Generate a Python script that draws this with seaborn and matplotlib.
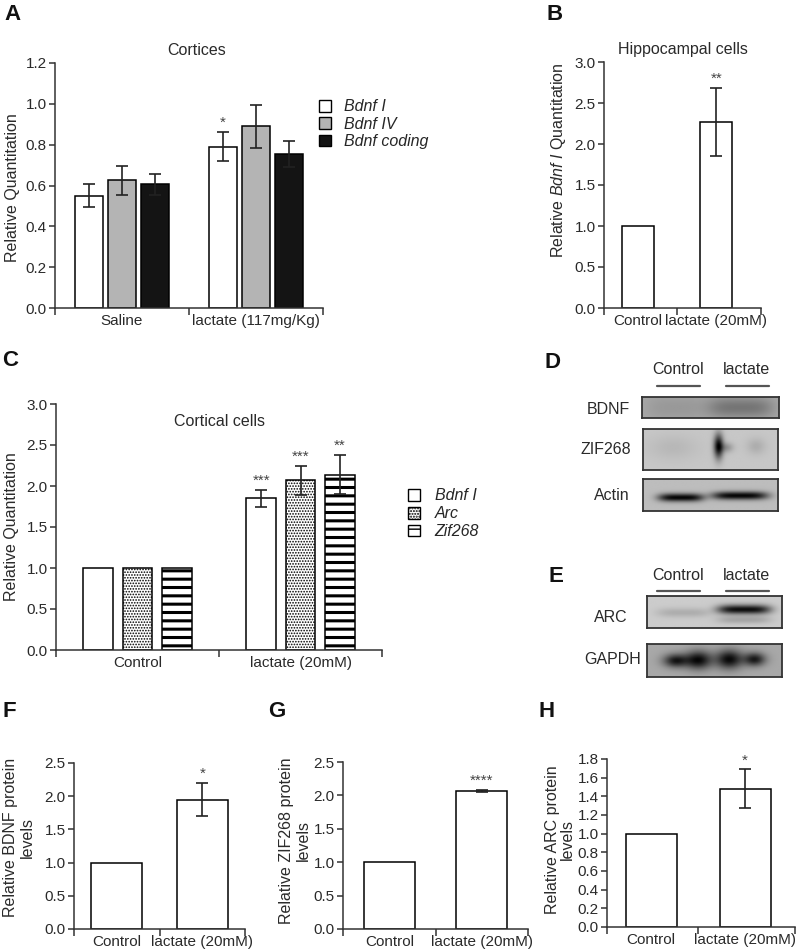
import numpy as np
import pandas as pd
import matplotlib
matplotlib.use("Agg")
import matplotlib.pyplot as plt
import seaborn as sns
from matplotlib.patches import Patch
from matplotlib.lines import Line2D

# --- A: Cortices (qPCR, 3 transcripts) ---
A_GROUPS = ["Saline", "lactate (117mg/Kg)"]
A_GENES = ["Bdnf I", "Bdnf IV", "Bdnf coding"]
A_MEANS = [[0.55, 0.79], [0.625, 0.89], [0.605, 0.755]]
A_ERRS = [[0.057, 0.072], [0.072, 0.105], [0.05, 0.065]]
A_STARS = [["", "*"], ["", ""], ["", ""]]

# --- B: Hippocampal cells ---
B_GROUPS = ["Control", "lactate (20mM)"]
B_MEANS = [1.0, 2.27]
B_ERRS = [0.0, 0.415]
B_STARS = ["", "**"]

# --- C: Cortical cells ---
C_GROUPS = ["Control", "lactate (20mM)"]
C_GENES = ["Bdnf I", "Arc", "Zif268"]
C_MEANS = [[1.0, 1.85], [1.0, 2.07], [1.0, 2.14]]
C_ERRS = [[0.0, 0.10], [0.0, 0.175], [0.0, 0.235]]
C_STARS = [["", "***"], ["", "***"], ["", "**"]]

# --- F/G/H: western blot quantification ---
FGH_GROUPS = ["Control", "lactate (20mM)"]
F_MEANS = [1.0, 1.95]
F_ERRS = [0.0, 0.25]
F_STARS = ["", "*"]
G_MEANS = [1.0, 2.07]
G_ERRS = [0.0, 0.012]
G_STARS = ["", "****"]
H_MEANS = [1.0, 1.48]
H_ERRS = [0.0, 0.21]
H_STARS = ["", "*"]

# --- D/E: blot band sketches (cx, cy, sx, sy, depth, power) in box fractions ---
BDNF_BG, BDNF_BANDS = 0.66, [(0.25, 0.5, 0.22, 0.6, 0.06, 4), (0.72, 0.5, 0.24, 0.5, 0.2, 4)]
ZIF_BG, ZIF_BANDS = 0.78, [(0.22, 0.45, 0.18, 0.3, 0.06, 2), (0.56, 0.42, 0.035, 0.3, 0.75, 2),
                           (0.62, 0.45, 0.05, 0.12, 0.2, 2), (0.84, 0.42, 0.07, 0.2, 0.1, 2)]
ACTIN_BG, ACTIN_BANDS = 0.74, [(0.28, 0.58, 0.17, 0.13, 0.72, 4), (0.72, 0.52, 0.21, 0.13, 0.72, 4)]
ARC_BG, ARC_BANDS = 0.80, [(0.27, 0.52, 0.2, 0.15, 0.12, 4), (0.72, 0.42, 0.2, 0.15, 0.75, 4),
                           (0.72, 0.75, 0.2, 0.12, 0.15, 4)]
GAPDH_BG, GAPDH_BANDS = 0.66, [(0.21, 0.52, 0.09, 0.2, 0.55, 2), (0.38, 0.5, 0.1, 0.27, 0.62, 2),
                               (0.61, 0.48, 0.1, 0.28, 0.62, 2), (0.80, 0.48, 0.08, 0.2, 0.55, 2)]

W, H = 800, 950
TXT = "#2a2a2a"

sns.set_style("ticks")
plt.rcParams["font.family"] = ["Liberation Sans", "DejaVu Sans"]
plt.rcParams["mathtext.fontset"] = "custom"
plt.rcParams["mathtext.rm"] = "Liberation Sans"
plt.rcParams["mathtext.it"] = "Liberation Sans:italic"
plt.rcParams["hatch.linewidth"] = 1.0


def box(l, t, r, b):
    return [l / W, 1 - b / H, (r - l) / W, (b - t) / H]


def fx(x):
    return x / W


def fy(y):
    return 1 - y / H


def style_axis(ax, groups, ylim, yticks, xlim, mid=0.5):
    ax.set_ylim(ylim)
    ax.set_yticks(yticks)
    ax.set_yticklabels([f"{t:.1f}" for t in yticks])
    ax.set_xlim(xlim)
    ax.set_xticks([0, 1])
    ax.set_xticklabels(groups)
    ax.set_xticks([xlim[0], mid, xlim[1]], minor=True)
    ax.tick_params(axis="x", which="major", length=0, pad=4, labelsize=11, colors=TXT)
    ax.tick_params(axis="x", which="minor", length=5, width=1.1, color="#333")
    ax.tick_params(axis="y", length=4, width=1.1, labelsize=11, colors=TXT, pad=2)
    ax.tick_params(axis="y", color="#333")
    for s in ["top", "right"]:
        ax.spines[s].set_visible(False)
    for s in ["left", "bottom"]:
        ax.spines[s].set_linewidth(1.1)
        ax.spines[s].set_color("#333")
    ax.set_xlabel("")
    ax.set_ylabel("")


def put_ylabel(ax, text, x, y, spacing=1.15):
    ax.set_ylabel(text, fontsize=11.5, color=TXT, linespacing=spacing)
    ax.yaxis.set_label_coords(x, y)
    ax.yaxis.label.set_verticalalignment("center")


def add_err_star(ax, x, m, e, star, ymax):
    if e > 0:
        ax.errorbar(x, m, yerr=e, fmt="none", ecolor="#222", elinewidth=1.2,
                    capsize=4, capthick=1.2, zorder=5)
    if star:
        ax.text(x, m + e + ymax * 0.01, star, ha="center", va="bottom",
                fontsize=11, color="#444")


def grouped_bars(ax, groups, genes, means, errs, stars, colors, width, gap, ymax):
    rows = [(g, gene, means[i][j]) for i, gene in enumerate(genes) for j, g in enumerate(groups)]
    df = pd.DataFrame(rows, columns=["group", "gene", "value"])
    sns.barplot(data=df, x="group", y="value", hue="gene", order=groups, hue_order=genes,
                palette=colors, saturation=1, edgecolor="black", linewidth=1.1,
                width=width, gap=gap, errorbar=None, legend=False, ax=ax)
    bars = list(ax.containers)
    for i, cont in enumerate(bars):
        for j, p in enumerate(cont.patches):
            add_err_star(ax, p.get_x() + p.get_width() / 2, means[i][j], errs[i][j],
                         stars[i][j], ymax)
    return bars


def single_bars(ax, groups, means, errs, stars, width, ymax):
    df = pd.DataFrame({"group": groups, "value": means})
    sns.barplot(data=df, x="group", y="value", order=groups, color="white", saturation=1,
                edgecolor="black", linewidth=1.1, width=width, errorbar=None, ax=ax)
    patches = list(ax.containers[0].patches)
    for j, p in enumerate(patches):
        add_err_star(ax, p.get_x() + p.get_width() / 2, means[j], errs[j], stars[j], ymax)


def set_hatch(p, hatch, lw):
    p.set_hatch(hatch)
    if hasattr(p, "set_hatch_linewidth"):
        p.set_hatch_linewidth(lw)


def blot_image(bands, bg, shape=(60, 200)):
    h, w = shape
    yy, xx = np.mgrid[0:h, 0:w]
    yy = yy / (h - 1)
    xx = xx / (w - 1)
    img = np.full(shape, bg, dtype=float)
    for cx, cy, sx, sy, depth, pw in bands:
        img -= depth * np.exp(-np.abs((xx - cx) / sx) ** pw - ((yy - cy) / sy) ** 2)
    return np.clip(img, 0, 1)


def draw_blot(fig, rect, bands, bg, label, label_right, label_y):
    ax = fig.add_axes(box(*rect))
    ax.imshow(blot_image(bands, bg), cmap="gray", vmin=0, vmax=1, aspect="auto",
              interpolation="bilinear")
    ax.set_xticks([])
    ax.set_yticks([])
    for s in ax.spines.values():
        s.set_linewidth(1.3)
        s.set_color("#333")
    fig.text(fx(label_right), fy(label_y), label, ha="right", va="center",
             fontsize=11.5, color=TXT)


def lane_header(fig, y_text, y_line):
    for name, xc, x0, x1 in [("Control", 678, 657, 700), ("lactate", 747, 726, 769)]:
        fig.text(fx(xc), fy(y_text), name, ha="center", va="center", fontsize=11.5, color=TXT)
        fig.add_artist(Line2D([fx(x0), fx(x1)], [fy(y_line), fy(y_line)], color="#555", lw=1.6))


fig = plt.figure(figsize=(8, 9.5), dpi=100)

# panel letters
for letter, x, y in [("A", 4, 4), ("B", 547, 4), ("C", 2, 350), ("D", 545, 352),
                     ("E", 548, 566), ("F", 3, 701), ("G", 268, 701), ("H", 538, 701)]:
    fig.text(fx(x), fy(y), letter, ha="left", va="top", fontsize=16, fontweight="bold",
             color="#111")

# ---- A ----
axA = fig.add_axes(box(55, 63, 323, 308))
grouped_bars(axA, A_GROUPS, A_GENES, A_MEANS, A_ERRS, A_STARS,
             ["white", "#b4b4b4", "#141414"], 0.74, 0.15, 1.2)
style_axis(axA, A_GROUPS, (0, 1.2), [0.0, 0.2, 0.4, 0.6, 0.8, 1.0, 1.2], (-0.5, 1.5))
axA.set_title("Cortices", fontsize=11.5, color=TXT, pad=6, x=0.53)
put_ylabel(axA, "Relative Quantitation", -0.16, 0.49)
handlesA = [Patch(facecolor=c, edgecolor="black", linewidth=1.0, label=g)
            for c, g in zip(["white", "#b4b4b4", "#141414"], A_GENES)]
fig.legend(handles=handlesA, loc="upper left", bbox_to_anchor=(fx(313), fy(93)),
           frameon=False, prop={"style": "italic", "size": 11.5}, handlelength=0.75,
           handleheight=0.75, handletextpad=0.8, labelspacing=0.15, borderaxespad=0)

# ---- B ----
axB = fig.add_axes(box(604, 62, 761, 308))
single_bars(axB, B_GROUPS, B_MEANS, B_ERRS, B_STARS, 0.41, 3.0)
style_axis(axB, B_GROUPS, (0, 3.0), [0.0, 0.5, 1.0, 1.5, 2.0, 2.5, 3.0], (-0.43, 1.57))
axB.set_title("Hippocampal cells", fontsize=11.5, color=TXT, pad=6)
put_ylabel(axB, r"Relative $\mathit{Bdnf\ I}$ Quantitation", -0.29, 0.6)

# ---- C ----
axC = fig.add_axes(box(56, 404, 382, 650))
contC = grouped_bars(axC, C_GROUPS, C_GENES, C_MEANS, C_ERRS, C_STARS,
                     ["white", "white", "white"], 0.724, 0.24, 3.0)
for p in contC[1].patches:
    set_hatch(p, "......", 0.8)
for p in contC[2].patches:
    set_hatch(p, "--", 2.2)
style_axis(axC, C_GROUPS, (0, 3.0), [0.0, 0.5, 1.0, 1.5, 2.0, 2.5, 3.0], (-0.5, 1.5))
axC.text(0.5, 0.93, "Cortical cells", transform=axC.transAxes, ha="center", va="center",
         fontsize=11.5, color=TXT)
put_ylabel(axC, "Relative Quantitation", -0.135, 0.5)
handlesC = [Patch(facecolor="white", edgecolor="black", linewidth=1.0, label=C_GENES[0]),
            Patch(facecolor="white", edgecolor="black", linewidth=1.0, hatch="......", label=C_GENES[1]),
            Patch(facecolor="white", edgecolor="black", linewidth=1.0, hatch="--", label=C_GENES[2])]
fig.legend(handles=handlesC, loc="upper left", bbox_to_anchor=(fx(402), fy(482)),
           frameon=False, prop={"style": "italic", "size": 11.5}, handlelength=0.75,
           handleheight=0.75, handletextpad=0.9, labelspacing=0.18, borderaxespad=0)

# ---- D / E blots ----
lane_header(fig, 369, 386)
draw_blot(fig, (642, 397, 779, 418), BDNF_BANDS, BDNF_BG, "BDNF", 630, 410)
draw_blot(fig, (643, 429, 778, 470), ZIF_BANDS, ZIF_BG, "ZIF268", 631, 450)
draw_blot(fig, (643, 479, 778, 511), ACTIN_BANDS, ACTIN_BG, "Actin", 630, 496)
lane_header(fig, 575, 591)
draw_blot(fig, (647, 596, 782, 628), ARC_BANDS, ARC_BG, "ARC", 628, 617)
draw_blot(fig, (647, 644, 782, 677), GAPDH_BANDS, GAPDH_BG, "GAPDH", 641, 660)

# ---- F ----
axF = fig.add_axes(box(74, 763, 245, 929))
single_bars(axF, FGH_GROUPS, F_MEANS, F_ERRS, F_STARS, 0.6, 2.5)
style_axis(axF, FGH_GROUPS, (0, 2.5), [0.0, 0.5, 1.0, 1.5, 2.0, 2.5], (-0.5, 1.5))
put_ylabel(axF, "Relative BDNF protein\nlevels", -0.32, 0.55)

# ---- G ----
axG = fig.add_axes(box(343, 762, 528, 929))
single_bars(axG, FGH_GROUPS, G_MEANS, G_ERRS, G_STARS, 0.55, 2.5)
style_axis(axG, FGH_GROUPS, (0, 2.5), [0.0, 0.5, 1.0, 1.5, 2.0, 2.5], (-0.5, 1.5))
put_ylabel(axG, "Relative ZIF268 protein\nlevels", -0.26, 0.53)

# ---- H ----
axH = fig.add_axes(box(607, 759, 795, 927))
single_bars(axH, FGH_GROUPS, H_MEANS, H_ERRS, H_STARS, 0.54, 1.8)
style_axis(axH, FGH_GROUPS, (0, 1.8), [0.0, 0.2, 0.4, 0.6, 0.8, 1.0, 1.2, 1.4, 1.6, 1.8],
           (-0.47, 1.53))
put_ylabel(axH, "Relative ARC protein\nlevels", -0.25, 0.52, spacing=1.0)

fig.savefig("out.png", dpi=100)
plt.close(fig)
